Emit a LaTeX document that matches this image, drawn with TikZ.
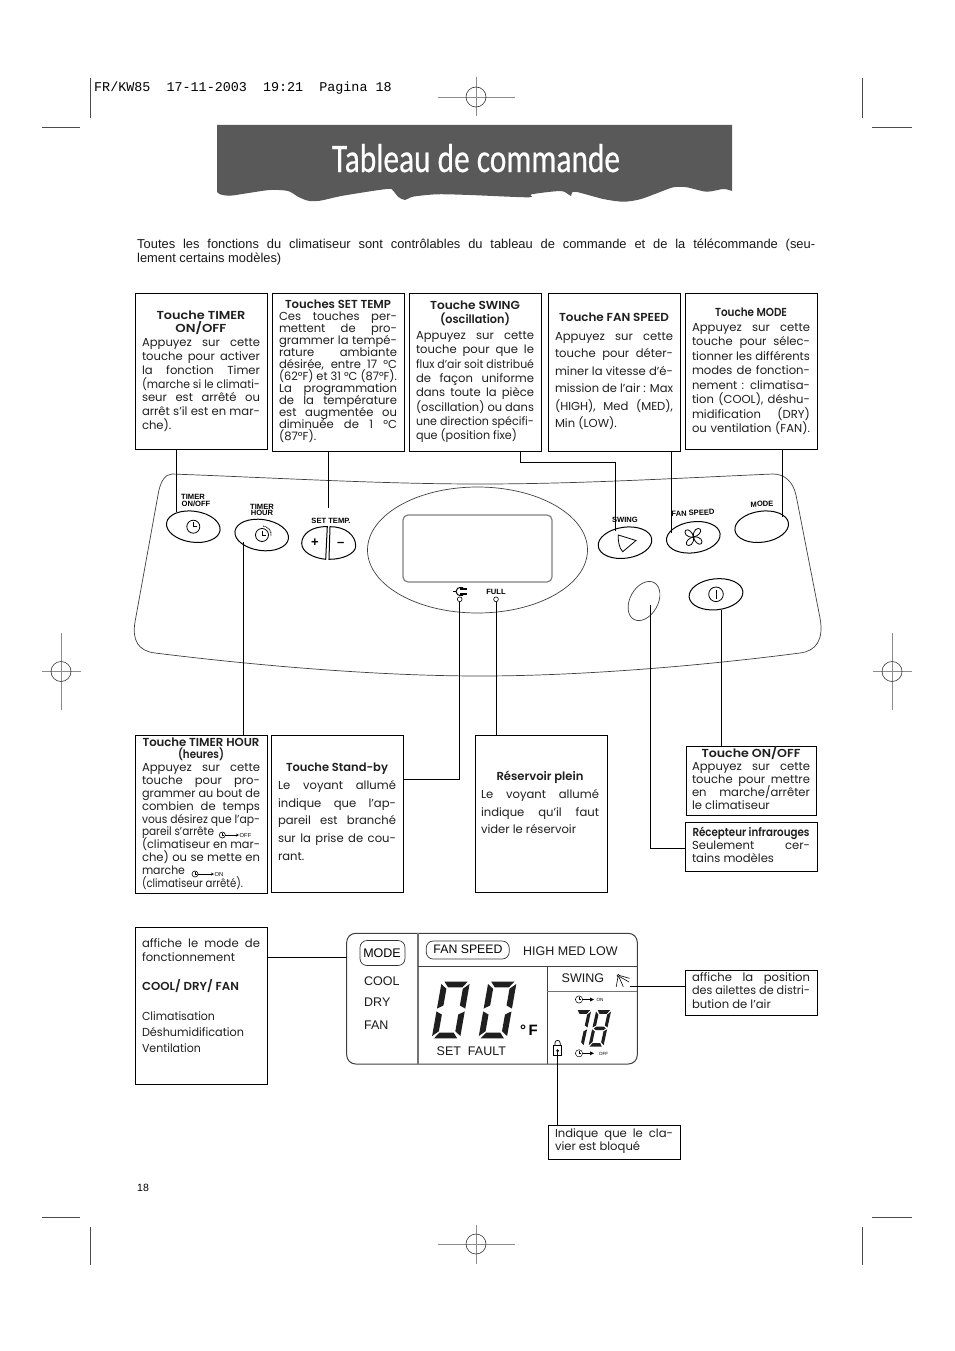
\documentclass[tikz,border=0pt]{standalone}
\usepackage{fontspec}
\usepackage{graphicx}
\setmainfont[BoldFont={Poppins SemiBold}]{Poppins}
\newfontfamily\hv{Liberation Sans}
\newfontfamily\mono{Liberation Mono}
\newfontfamily\ttl[FakeBold=0.6]{Carlito}
\usetikzlibrary{shapes.geometric}
\newbox\tmpbox
\newdimen\tmpdim
\newdimen\tw
\tw=118pt
\hbadness=10000
\hfuzz=50pt
\newcommand\bodyf{\fontsize{11.6}{13}\selectfont}
\newcommand\fitbox[2]{\setbox\tmpbox=\hbox{#2}\tmpdim=\ht\tmpbox\resizebox{#1pt}{\tmpdim}{\copy\tmpbox}}
\newcommand\jl[1]{\setbox\tmpbox=\hbox{#1}\ifdim\wd\tmpbox>\tw\hbox to\tw{\fitbox{118}{#1}}\else\hbox to\tw{#1}\fi}
\newcommand\lf[1]{\hbox{#1}}
\newcommand\lw[2]{\hbox{\fitbox{#1}{#2}}}
\newcommand\hd[2]{\hbox to\tw{\hss\fitbox{#1}{\bfseries #2}\hss}}
\newcommand\lh[2]{\hbox{\fitbox{#1}{\bfseries #2}}}
\tikzset{
  x=1pt,y=-1pt,
  box/.style={draw=black,line width=0.9pt,fill=none,inner sep=0pt,outer sep=0pt,anchor=north west},
  txt/.style={inner sep=0pt,outer sep=0pt,anchor=base west,text=black!88},
  conn/.style={draw=black,line width=0.9pt},
  panel/.style={draw=black!75,line width=0.7pt},
  btn/.style={ellipse,draw=black,line width=1pt,inner sep=0pt,outer sep=0pt},
  crop/.style={draw=black!70,line width=0.6pt},
  reg/.style={draw=black!45,line width=0.8pt},
  keylab/.style={inner sep=0pt,font=\hv\bfseries\fontsize{7.6}{7.6}\selectfont,text=black},
  lcd/.style={inner sep=0pt,anchor=base west,font=\hv\fontsize{12.5}{12.5}\selectfont,text=black!90},
  lcdrule/.style={draw=black!55,line width=1.3pt},
  seg/.style={fill=black!88},
}
\newcommand\bx[5]{\node[box,minimum width=#4pt-#2pt,minimum height=#5pt-#3pt] (#1) at (#2,#3) {};}
\newcommand\para[5]{\node[txt] (#1) at (#2,#3) {\vtop{\hsize=\tw\parindent=0pt\bodyf\baselineskip=#4pt\lineskiplimit=-100pt #5}};}
\newcommand\regh[2]{% long horizontal
  \draw[reg] (#1-38.5,#2) -- (#1+38.5,#2);
  \draw[reg] (#1,#2-19.5) -- (#1,#2+19.5);
  \draw[draw=black!80,line width=0.6pt] (#1,#2) circle[radius=10];}
\newcommand\regv[2]{% long vertical
  \draw[reg] (#1-19.5,#2) -- (#1+19.5,#2);
  \draw[reg] (#1,#2-38.5) -- (#1,#2+38.5);
  \draw[draw=black!80,line width=0.6pt] (#1,#2) circle[radius=10];}
\newcommand\clockicon[4]{% x y r lw
  \draw[line width=#4pt] (#1,#2) circle[radius=#3];
  \draw[line width=#4pt] (#1,#2-0.65*#3) -- (#1,#2) -- (#1+0.6*#3,#2);}
\newcommand\segT{\fill[seg] (0.10,2)--(0.92,2)--(0.76,1.80)--(0.26,1.80)--cycle;}
\newcommand\segUR{\fill[seg] (1,1.92)--(1,1.05)--(0.79,1.16)--(0.79,1.75)--cycle;}
\newcommand\segLR{\fill[seg] (1,0.95)--(1,0.08)--(0.79,0.25)--(0.79,0.84)--cycle;}
\newcommand\segB{\fill[seg] (0.08,0)--(0.90,0)--(0.74,0.20)--(0.24,0.20)--cycle;}
\newcommand\segLL{\fill[seg] (0,0.95)--(0,0.08)--(0.21,0.25)--(0.21,0.84)--cycle;}
\newcommand\segUL{\fill[seg] (0,1.92)--(0,1.05)--(0.21,1.16)--(0.21,1.75)--cycle;}
\newcommand\segM{\fill[seg] (0.1,1)--(0.26,1.1)--(0.74,1.1)--(0.9,1)--(0.74,0.9)--(0.26,0.9)--cycle;}
\newcommand\digitZero{\segT\segUR\segLR\segB\segLL\segUL}
\begin{document}
\begin{tikzpicture}
\useasboundingbox (0,0) rectangle (954,1351);
\fill[white] (0,0) rectangle (954,1351);

% crop marks
\draw[crop] (90,78) -- (90,118);
\draw[crop] (42,127) -- (80,127);
\draw[crop] (862,78) -- (862,118);
\draw[crop] (872,127) -- (912,127);
\draw[crop] (90,1227) -- (90,1265);
\draw[crop] (42,1217) -- (80,1217);
\draw[crop] (862,1227) -- (862,1265);
\draw[crop] (872,1217) -- (912,1217);
\regh{476}{97}
\regh{476}{1244}
\regv{61}{671.5}
\regv{892}{671.5}

\node[inner sep=0pt,anchor=base west,font=\mono\fontsize{13.4}{13.4}\selectfont] (hdr) at (94,92) {FR/KW85\ \ 17-11-2003\ \ 19:21\ \ Pagina 18};

% banner
\fill[black!65] (217,125) -- (732,125) -- (732,191) -- plot[smooth,tension=0.5] coordinates {(732,191)(723.3,189)(706.7,191.7)(686.7,187.3)(673.3,187.3)(656.7,193.3)(640,199.3)(623.3,201.7)(603.3,199)(578.3,192.3)(572.3,192.3)(571,196)(568.3,194.3)(560,191)(531.7,194.3)(528.3,197.3)(470,195)(437,194.3)(413,196.7)(405,200)(398,196.7)(393,190.7)(386.7,189)(343,195.7)(320,200.7)(308,200.7)(298,196.7)(288,191)(270,190)(246.7,193.3)(230,195.7)(220,194.3)(217,191.7)} -- cycle;
\node[inner sep=0pt,anchor=base,text=white] (title) at (476,172) {\resizebox{288pt}{28pt}{\ttl Tableau de commande}};

% intro
\node[inner sep=0pt,anchor=base west,text=black!90] (intro) at (137,248) {\vtop{\hsize=678pt\parindent=0pt\hv\fontsize{12.9}{14}\selectfont\baselineskip=14pt
  \hbox to 678pt{Toutes les fonctions du climatiseur sont contrôlables du tableau de commande et de la télécommande (seu-}
  \hbox{lement certains modèles)}}};

% top boxes
\bx{b1}{135}{293}{267}{449}
\bx{b2}{272}{293}{404}{451}
\bx{b3}{409}{293}{541}{451}
\bx{b4}{548}{293}{680}{451}
\bx{b5}{685}{293}{817}{449}

\para{t1}{142}{319}{13.7}{\hd{89}{Touche TIMER}\hd{51}{ON/OFF}\vskip0.5pt
\jl{Appuyez sur cette}\jl{touche pour activer}\jl{la fonction Timer}\jl{(marche si le climati-}\jl{seur est arrêté ou}\jl{arrêt s’il est en mar-}\lf{che).}}

\para{t2}{279}{308}{12.0}{\hd{106}{Touches SET TEMP}\vskip0.5pt
\jl{Ces touches per-}\jl{mettent de pro-}\jl{grammer la tempé-}\jl{rature ambiante}\jl{désirée, entre 17 °C}\jl{(62°F) et 31 °C (87°F).}\jl{La programmation}\jl{de la température}\jl{est augmentée ou}\jl{diminuée de 1 °C}\lf{(87°F).}}

\para{t3}{416}{309}{14.3}{\hd{90}{Touche SWING}\hd{70}{(oscillation)}\vskip2pt
\jl{Appuyez sur cette}\jl{touche pour que le}\jl{flux d’air soit distribué}\jl{de façon uniforme}\jl{dans toute la pièce}\jl{(oscillation) ou dans}\jl{une direction spécifi-}\lw{101}{que (position fixe)}}

\para{t4}{555}{321}{17.4}{\hd{110}{Touche FAN SPEED}\vskip2pt
\jl{Appuyez sur cette}\jl{touche pour déter-}\jl{miner la vitesse d’é-}\jl{mission de l’air : Max}\jl{(HIGH), Med (MED),}\lf{Min (LOW).}}

\para{t5}{692}{316}{14.5}{\hd{72}{Touche MODE}\vskip0.5pt
\jl{Appuyez sur cette}\jl{touche pour sélec-}\jl{tionner les différents}\jl{modes de fonction-}\jl{nement : climatisa-}\jl{tion (COOL), déshu-}\jl{midification (DRY)}\jl{ou ventilation (FAN).}}

% lower boxes
\bx{b6}{135}{735}{267}{893}
\bx{b7}{271}{735}{403}{892}
\bx{b8}{475}{735}{607}{892}
\bx{b9}{686}{746}{816}{815}
\bx{b10}{685}{822}{817}{871}

\para{t6}{142}{746}{12.85}{\hd{117}{Touche TIMER HOUR}\hd{46}{(heures)}
\jl{Appuyez sur cette}\jl{touche pour pro-}\jl{grammer au bout de}\jl{combien de temps}\jl{vous désirez que l’ap-}\lw{72}{pareil s’arrête}\jl{(climatiseur en mar-}\jl{che) ou se mette en}\lw{43}{marche}\lw{101}{(climatiseur arrêté).}}

\para{t7}{278}{771}{17.6}{\hd{102}{Touche Stand-by}\vskip1pt
\jl{Le voyant allumé}\jl{indique que l’ap-}\jl{pareil est branché}\jl{sur la prise de cou-}\lf{rant.}}

\para{t8}{481}{780}{17.4}{\hd{87}{Réservoir plein}\vskip1.5pt
\jl{Le voyant allumé}\jl{indique qu’il faut}\lf{vider le réservoir}}

\para{t9}{692}{757}{13}{\hd{99}{Touche ON/OFF}
\jl{Appuyez sur cette}\jl{touche pour mettre}\jl{en marche/arrêter}\lf{le climatiseur}}

\para{t10}{692}{836}{13.3}{\hd{117}{Récepteur infrarouges}
\jl{Seulement cer-}\lf{tains modèles}}

\bx{b11}{135}{927}{267}{1084}
\node[txt] (t11) at (142,947) {\vtop{\hsize=\tw\parindent=0pt\bodyf\baselineskip=14pt\lineskiplimit=-100pt
 \jl{affiche le mode de}\lf{fonctionnement}\vskip15pt\lh{97}{COOL/ DRY/ FAN}\vskip16pt\lw{73}{Climatisation}\vskip2pt\lw{102}{Déshumidification}\vskip2pt\lw{59}{Ventilation}}};
\bx{b12}{685}{970}{817}{1015}
\para{t12}{692}{981}{13.5}{\jl{affiche la position}\jl{des ailettes de distri-}\lf{bution de l’air}}
\bx{b13}{548}{1125}{680}{1159}
\para{t13}{555}{1137}{13.5}{\jl{Indique que le cla-}\lf{vier est bloqué}}

\node[inner sep=0pt,anchor=base west,font=\hv\fontsize{10.5}{10.5}\selectfont] (pg) at (137,1191) {18};

% control panel
\draw[panel] (172,474) .. controls (280,478) and (380,484) .. (480,484)
  .. controls (580,484) and (680,478) .. (773,474)
  .. controls (785,474) and (793,482) .. (796,495)
  -- (820,618) .. controls (824,640) and (816,651) .. (800,653)
  .. controls (700,666) and (580,676) .. (480,676)
  .. controls (380,676) and (260,666) .. (155,653)
  .. controls (138,651) and (132,640) .. (135,622)
  -- (158,495) .. controls (160,482) and (165,474) .. (172,474) -- cycle;
\node[ellipse,draw=black!75,line width=0.7pt,minimum width=220pt,minimum height=126pt,inner sep=0pt] (disp) at (477.5,550) {};
\draw[draw=black!50,line width=1.2pt,rounded corners=5pt] (403,515) rectangle (552,582);

% buttons
\node[btn,rotate=-8,minimum width=54pt,minimum height=31pt] (btimer) at (193.3,526.7) {};
\node[btn,rotate=-8,minimum width=54pt,minimum height=31pt] (bhour) at (261.7,535) {};
\node[btn,rotate=8,minimum width=54pt,minimum height=31pt] (bswing) at (625,542.7) {};
\node[btn,rotate=8,minimum width=54pt,minimum height=31pt] (bfan) at (693.3,537.3) {};
\node[btn,rotate=8,minimum width=54pt,minimum height=31pt] (bmode) at (761.7,526.7) {};
\node[btn,rotate=6,minimum width=54pt,minimum height=31pt] (bon) at (716,594.3) {};
\node[ellipse,draw=black!75,line width=0.7pt,rotate=61,minimum width=42pt,minimum height=28pt,inner sep=0pt,outer sep=0pt] (brec) at (644,601) {};
% set temp halves
\draw[line width=1pt] (327.3,526.7) .. controls (312,526) and (301.7,534) .. (301.7,543.3) .. controls (301.7,552) and (313,558) .. (325.7,559.3) -- cycle;
\draw[line width=1pt] (330,526.7) .. controls (345,526.5) and (355.7,535) .. (355.7,546) .. controls (355.7,554) and (342,559.5) .. (329,559.3) -- cycle;
\node[inner sep=0pt,font=\hv\bfseries\fontsize{13}{13}\selectfont] (plus) at (315,543) {+};
\node[inner sep=0pt,font=\hv\bfseries\fontsize{13}{13}\selectfont] (minus) at (340.7,544) {–};

% key labels
\node[keylab] (l1) at (193,497) {TIMER};
\node[keylab] (l1b) at (196,503.5) {ON/OFF};
\node[keylab] (l2) at (262,506.5) {TIMER};
\node[keylab] (l2b) at (262,512.7) {HOUR};
\node[keylab] (l3) at (331,521) {SET TEMP.};
\node[keylab] (l4) at (625,520) {SWING};
\node[keylab,rotate=3] (l5) at (693,513) {FAN SPEED};
\node[keylab,rotate=2] (l6) at (762,504) {MODE};
\node[keylab] (l7) at (496,591.5) {FULL};

% icons in keys
\clockicon{193.3}{526.7}{6.5}{0.8}
\clockicon{262}{535}{6.5}{0.8}
\draw[line width=0.9pt,dash pattern=on 1pt off 0.7pt] (263,526) .. controls (268,526.5) and (272,531) .. (271,536);
\draw[line width=0.8pt] (618.3,535) -- (636,540.5) -- (622.7,551.7) .. controls (619,548) and (618,541) .. (618.3,535) -- cycle;
\foreach \a in {20,110,200,290}{
  \draw[line width=0.8pt,rotate around={\a:(693.5,537)}] (693.5,537) .. controls (695,530) and (701,529) .. (702.5,532) .. controls (703.5,535) and (698,538) .. (693.5,537);
}
\draw[line width=0.8pt] (716,594.3) circle[radius=7.3];
\draw[line width=0.8pt] (716,590) -- (716,599);

% LEDs and plug
\draw[line width=0.6pt] (459.7,599.3) circle[radius=2.4];
\draw[line width=0.6pt] (496,599.3) circle[radius=2.4];
\draw[line width=1pt] (453,591.5) -- (456,591.5);
\draw[line width=1pt] (463,587.5) .. controls (458,587) and (456,589) .. (456,591.5) .. controls (456,594) and (458,596) .. (463,595.5);
\draw[line width=1.2pt] (460,589) -- (466.5,589);
\draw[line width=1.2pt] (460,594) -- (466.5,594);

% LCD
\draw[draw=black!75,line width=1pt,rounded corners=9pt] (346.7,933.3) rectangle (637.3,1064);
\coordinate (lcdl) at (346.7,957.3);
\draw[lcdrule] (418,933.3) -- (418,1064);
\draw[draw=black!75,line width=0.9pt] (418,966.7) -- (637.3,966.7);
\draw[draw=black!75,line width=0.9pt] (547.3,966.7) -- (547.3,1064);
\draw[lcdrule] (547.3,991.7) -- (637.3,991.7);
\node[draw=black!80,line width=0.7pt,rounded corners=7pt,minimum width=45pt,minimum height=25pt,inner sep=0pt] (pmode) at (382.5,953) {};
\node[inner sep=0pt,font=\hv\fontsize{12.5}{12.5}\selectfont,anchor=base] (tmode) at (382,957) {MODE};
\node[lcd] (tcool) at (364,985) {COOL};
\node[lcd] (tdry) at (364,1006.5) {DRY};
\node[lcd] (tfan) at (364,1029) {FAN};
\node[draw=black!80,line width=0.7pt,rounded corners=7pt,minimum width=83pt,minimum height=18pt,inner sep=0pt] (pfan) at (467.7,950) {};
\node[inner sep=0pt,font=\hv\fontsize{12.3}{12.3}\selectfont,anchor=base] (tfs) at (468,953.5) {FAN SPEED};
\node[lcd] (thml) at (523,955.5) {HIGH MED LOW};
\node[lcd] (tsw) at (561.5,982) {SWING};
\node[lcd] (tsf) at (436.5,1055) {SET\ \ FAULT};
\node[inner sep=0pt,font=\hv\bfseries\fontsize{15}{15}\selectfont,anchor=base] (tdeg) at (529,1035.5) {°\,F};

% big digits
\begin{scope}[shift={(431.7,1038.3)},x={(28.3pt,0pt)},y={(5pt,28.3pt)}]\digitZero\end{scope}
\begin{scope}[shift={(478.4,1038.3)},x={(28.3pt,0pt)},y={(5pt,28.3pt)}]\digitZero\end{scope}
\begin{scope}[shift={(568.3,1046.7)},x={(15pt,0pt)},y={(4pt,18.3pt)}]\segT\segUR\segLR\end{scope}
\begin{scope}[shift={(588.3,1046.7)},x={(15pt,0pt)},y={(4pt,18.3pt)}]\digitZero\segM\end{scope}

% small icons in LCD
\clockicon{579}{999.5}{3.6}{0.5}
\draw[line width=0.8pt] (582.6,999.5) -- (591,999.5);
\fill (594,999.5) -- (590,997.5) -- (590,1001.5) -- cycle;
\node[inner sep=0pt,font=\hv\fontsize{4.5}{4.5}\selectfont] (son) at (600,999.8) {ON};
\clockicon{579}{1053.3}{3.6}{0.5}
\draw[line width=0.8pt] (582.6,1053.3) -- (591,1053.3);
\fill (594,1053.3) -- (590,1051.3) -- (590,1055.3) -- cycle;
\node[inner sep=0pt,font=\hv\fontsize{4.5}{4.5}\selectfont] (soff) at (603.5,1053.8) {OFF};
\draw[line width=0.7pt] (553.5,1045.7) rectangle (561.7,1055.8);
\draw[line width=0.7pt] (555,1045.7) -- (555,1043) .. controls (555,1039.5) and (560.2,1039.5) .. (560.2,1043) -- (560.2,1045.7);
\fill (557.6,1050.7) circle[radius=1.5];
\draw[line width=0.6pt] (618.3,975.7) circle[radius=1.3];
\draw[line width=0.6pt] (619.5,975.5) -- (629.5,978.3);
\draw[line width=0.6pt] (619.5,976.5) -- (629,982);
\draw[line width=0.6pt] (619,977) -- (623.3,986.7);
\draw[line width=0.6pt] (618,977) -- (616.2,986.7);

% inline icons in TIMER HOUR box
\clockicon{222.3}{835}{3}{0.6}
\draw[-stealth,line width=0.4pt] (225.3,835) -- (239,835);
\node[inner sep=0pt,anchor=west,font=\hv\fontsize{5.8}{5.8}\selectfont] (ioff) at (239.5,835) {OFF};
\clockicon{195}{874}{3}{0.6}
\draw[-stealth,line width=0.4pt] (198,874) -- (214,874);
\node[inner sep=0pt,anchor=west,font=\hv\fontsize{5.8}{5.8}\selectfont] (ion) at (214.5,874) {ON};

% connectors
\coordinate (c1) at (176.5,512);
\coordinate (c2) at (328.7,508);
\coordinate (c3a) at (520.5,462.5);
\coordinate (c3b) at (615.7,531);
\coordinate (c4) at (671.7,533);
\coordinate (c5) at (782.7,517);
\coordinate (c6) at (243.4,541.5);
\coordinate (c7) at (459,601.7);
\coordinate (c8) at (496,601.7);
\coordinate (c9) at (721.3,610);
\coordinate (c10) at (650.8,605);
\coordinate (c11) at (630,986.5);
\coordinate (c13) at (557.6,1050.7);
\draw[conn] (b1.south -| c1) -- (c1);
\draw[conn] (b2.south -| c2) -- (c2);
\draw[conn] (b3.south -| c3a) -- (c3a) -| (c3b);
\draw[conn] (b4.south -| c4) -- (c4);
\draw[conn] (b5.south -| c5) -- (c5);
\draw[conn] (b6.north -| c6) -- (c6);
\draw[conn] (b7.east |- 0,779) -| (c7);
\draw[conn] (b8.north -| c8) -- (c8);
\draw[conn] (b9.north -| c9) -- (c9);
\draw[conn] (b10.west |- 0,848) -| (c10);
\draw[conn] (b11.east |- lcdl) -- (lcdl);
\draw[conn] (b12.west |- c11) -- (c11);
\draw[conn] (b13.north -| c13) -- (c13);
\end{tikzpicture}
\end{document}
